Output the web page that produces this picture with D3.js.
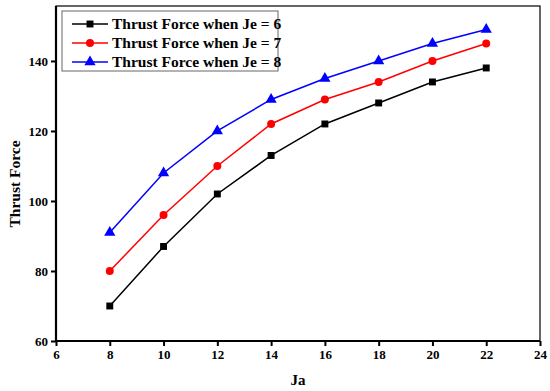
<!DOCTYPE html>
<html>
<head>
<meta charset="utf-8">
<title>Thrust Force</title>
<script src="https://d3js.org/d3.v7.min.js"></script>
<style>
body { margin: 0; background: #fff; }
text { font-family: "Liberation Serif", "Times New Roman", serif; font-weight: bold; }
</style>
</head>
<body>
<script>
var width = 550, height = 391;

// data
var ja = [8, 10, 12, 14, 16, 18, 20, 22];
var je6 = [70, 87, 102, 113, 122, 128, 134, 138];
var je7 = [80, 96, 110, 122, 129, 134, 140, 145];
var je8 = [91, 108, 120, 129, 135, 140, 145, 149];
var names = ["Thrust Force when Je = 6", "Thrust Force when Je = 7", "Thrust Force when Je = 8"];
var xTicks = [6, 8, 10, 12, 14, 16, 18, 20, 22, 24];
var yTicks = [60, 80, 100, 120, 140];

var series = [
  {name: names[0], values: je6, color: "#000000", shape: d3.symbolSquare, size: 48},
  {name: names[1], values: je7, color: "#ff0000", shape: d3.symbolCircle, size: 50},
  {name: names[2], values: je8, color: "#0000ff", shape: d3.symbolTriangle, size: 55}
];

var plotL = 56, plotR = 540, plotT = 6, plotB = 341;

var svg = d3.select("body").append("svg")
    .attr("width", width)
    .attr("height", height);

var x = d3.scaleLinear().domain([6, 24]).range([plotL, plotR]);
var y = d3.scaleLinear().domain([60, 155.7]).range([plotB, plotT]);

// frame
svg.append("rect")
    .attr("x", plotL).attr("y", plotT)
    .attr("width", plotR - plotL).attr("height", plotB - plotT)
    .attr("fill", "none").attr("stroke", "#000").attr("stroke-width", 1.2);

var xAxis = svg.append("g")
    .attr("transform", "translate(0," + plotB + ")")
    .call(d3.axisBottom(x).tickValues(xTicks).tickSize(5).tickPadding(4));
var yAxis = svg.append("g")
    .attr("transform", "translate(" + plotL + ",0)")
    .call(d3.axisLeft(y).tickValues(yTicks).tickSize(5).tickPadding(3));

[xAxis, yAxis].forEach(function(a) {
  a.select(".domain").attr("stroke-width", 2.2);
  a.selectAll(".tick line").attr("stroke-width", 2);
  a.selectAll(".tick text")
    .attr("font-size", 13)
    .attr("font-family", "Liberation Serif, serif")
    .attr("font-weight", "bold")
    .attr("fill", "#000");
});
xAxis.select(".domain").attr("d", "M" + plotL + ",0H" + plotR);
yAxis.select(".domain").attr("d", "M0," + plotB + "V" + plotT);

var line = d3.line()
    .x(function(d, i) { return x(ja[i]); })
    .y(function(d) { return y(d); });

series.forEach(function(s) {
  svg.append("path")
      .datum(s.values)
      .attr("fill", "none")
      .attr("stroke", s.color)
      .attr("stroke-width", 1.5)
      .attr("d", line);
  svg.selectAll(null)
      .data(s.values)
    .enter().append("path")
      .attr("transform", function(d, i) { return "translate(" + x(ja[i]) + "," + y(d) + ")"; })
      .attr("d", d3.symbol().type(s.shape).size(s.size))
      .attr("fill", s.color);
});

// axis titles
svg.append("text")
    .attr("x", (plotL + plotR) / 2).attr("y", 385)
    .attr("text-anchor", "middle")
    .attr("font-size", 15)
    .text("Ja");
svg.append("text")
    .attr("transform", "translate(20,184) rotate(-90)")
    .attr("text-anchor", "middle")
    .attr("font-size", 15.5)
    .text("Thrust Force");

// legend
var legend = svg.append("g");
legend.append("rect")
    .attr("x", 62).attr("y", 11)
    .attr("width", 216).attr("height", 60)
    .attr("fill", "#fff").attr("stroke", "#666").attr("stroke-width", 1);
series.forEach(function(s, i) {
  var ly = 24 + i * 19;
  legend.append("line")
      .attr("x1", 72).attr("x2", 108)
      .attr("y1", ly).attr("y2", ly)
      .attr("stroke", s.color).attr("stroke-width", 1.5);
  legend.append("path")
      .attr("transform", "translate(90," + ly + ")")
      .attr("d", d3.symbol().type(s.shape).size(s.size))
      .attr("fill", s.color);
  legend.append("text")
      .attr("x", 112).attr("y", ly + 5)
      .attr("font-size", 15.5)
      .text(s.name);
});
</script>
</body>
</html>
